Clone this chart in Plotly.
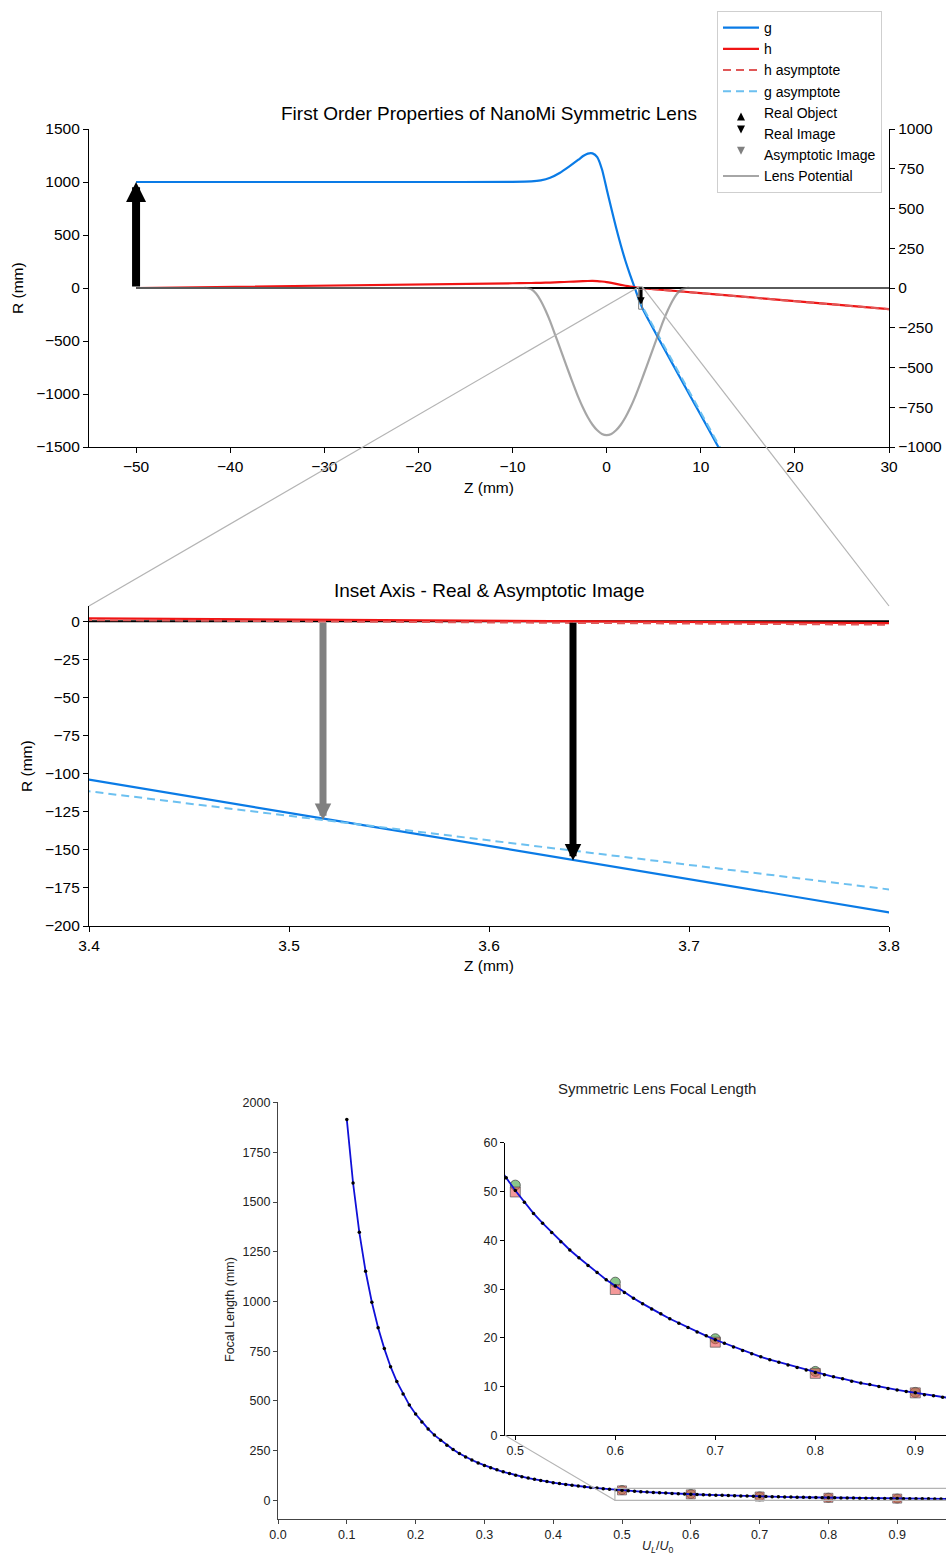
import plotly.graph_objects as go

W, H = 946, 1555

# ---------------- top panel data (Z in mm, R in mm) ----------------
g_z = [-50, -20, -10, -8, -7, -6, -5, -4, -3, -2.5, -2, -1.5, -1, -0.5, 0, 0.5, 1, 1.5, 2,
       2.5, 3, 3.4, 3.5, 3.6, 3.7, 3.8, 4.5, 5.5, 7, 8.5, 10, 12]
g_r = [1000, 1000, 1001, 1005, 1015, 1040, 1085, 1145, 1210, 1245, 1268, 1270, 1235, 1120,
       935, 750, 570, 405, 255, 122, -2, -104, -125.8, -147.5, -169.3, -191, -310, -475,
       -716, -958, -1199, -1521]

h_z = [-50, -10, -8, -7, -6, -5, -4, -3, -2, -1.5, -1, -0.5, 0, 0.5, 1, 1.5, 2, 2.5, 3,
       3.4, 3.8, 5, 10, 20, 30]
h_r = [0, 44.8, 47.1, 48.8, 51, 54.5, 59, 63, 66, 66.5, 65, 61.5, 56, 48, 39, 30, 21.5, 13.5,
       6.5, 1.9, -1.3, -10.4, -48.3, -124, -200]

h_asym_z = [3.3, 30]
h_asym_r = [1.5, -200.1]
g_asym_z = [3.3, 12.5]
g_asym_r = [-95.5, -1576.6]

axis_z = [-50, 30]
axis_r = [0, 0]

pot_z = [-50, -9, -8.5, -8, -7.5, -7, -6.5, -6, -5.5, -5, -4.5, -4, -3.5, -3, -2.5, -2,
         -1.5, -1, -0.5, 0, 0.5, 1, 1.5, 2, 2.5, 3, 3.5, 4, 4.5, 5, 5.5, 6, 6.5, 7, 7.5,
         8, 8.5, 9, 30]
pot_v = [0, 0, 0, -8, -35, -80, -140, -210, -290, -370, -452, -533, -612, -688, -755,
         -813, -860, -895, -918, -925, -918, -895, -860, -813, -755, -688, -612, -533,
         -452, -370, -290, -210, -140, -80, -35, -8, 0, 0, 0]

obj_z, obj_r = -50, 1000          # real object
img_z, img_r = 3.642, -157        # real image
aimg_z, aimg_r = 3.517, -130.4    # asymptotic image

inset_x = [3.4, 3.8]
inset_y = [-200, 10]

# ---------------- bottom panel data ----------------
ul_ratio = [0.1, 0.1091, 0.1182, 0.1273, 0.1364, 0.1455, 0.1545, 0.1636, 0.1727, 0.1818,
            0.1909, 0.2, 0.2091, 0.2182, 0.2273, 0.2364, 0.2455, 0.2545, 0.2636, 0.2727,
            0.2818, 0.2909, 0.3, 0.3091, 0.3182, 0.3273, 0.3364, 0.3455, 0.3545, 0.3636,
            0.3727, 0.3818, 0.3909, 0.4, 0.4091, 0.4182, 0.4273, 0.4364, 0.4455, 0.4545,
            0.4636, 0.4727, 0.4818, 0.4909, 0.5, 0.5091, 0.5182, 0.5273, 0.5364, 0.5455,
            0.5545, 0.5636, 0.5727, 0.5818, 0.5909, 0.6, 0.6091, 0.6182, 0.6273, 0.6364,
            0.6455, 0.6545, 0.6636, 0.6727, 0.6818, 0.6909, 0.7, 0.7091, 0.7182, 0.7273,
            0.7364, 0.7455, 0.7545, 0.7636, 0.7727, 0.7818, 0.7909, 0.8, 0.8091, 0.8182,
            0.8273, 0.8364, 0.8455, 0.8545, 0.8636, 0.8727, 0.8818, 0.8909, 0.9, 0.9091,
            0.9182, 0.9273, 0.9364, 0.9455, 0.9545, 0.9636, 0.9727, 0.9818, 0.9909, 1.0]
focal = [1916, 1596, 1348, 1152, 996, 868, 763, 672, 597, 535,
         479, 434, 394, 359, 328, 302, 277, 255.2, 235.7, 218.3,
         202.5, 188.3, 175.5, 163.8, 153.1, 143.4, 134.5, 126.4, 118.9, 112.0,
         105.6, 99.5, 94.0, 88.8, 84.0, 79.6, 75.4, 71.5, 67.9, 64.5,
         61.3, 58.3, 55.5, 52.8, 50.2, 47.8, 45.5, 43.5, 41.6, 39.7,
         38.0, 36.4, 34.8, 33.4, 31.9, 30.6, 29.3, 28.1, 27.0, 25.9,
         24.9, 23.9, 23.0, 22.1, 21.2, 20.4, 19.6, 18.9, 18.1, 17.4,
         16.7, 16.1, 15.5, 15.0, 14.4, 13.9, 13.4, 12.9, 12.4, 12.0,
         11.6, 11.1, 10.7, 10.4, 10.0, 9.6, 9.3, 9.0, 8.7, 8.3,
         8.1, 7.8, 7.54, 7.29, 7.05, 6.82, 6.60, 6.39, 6.19, 5.99]
exp_x = [0.5, 0.6, 0.7, 0.8, 0.9]
exp_circle = [51.3, 31.4, 19.8, 13.1, 8.8]
exp_square = [49.9, 29.9, 19.1, 12.7, 8.7]

zoom2_x = [0.4897, 1.02]      # zoom window marked in the main focal-length axes
zoom2_y = [0, 60]
inset2_view = [0.4897, 0.9307]  # part of the inset visible inside the page

# ---------------- layout geometry ----------------
FONT = "Liberation Sans, Arial, Helvetica, sans-serif"
def px(x): return x / W
def py(y): return 1 - y / H

top_xd = [px(89), px(889)]
top_yd = [py(447), py(129)]
ins_yd = [py(926), py(606)]
bot_xd = [px(278), 1.0]
bot_yd = [py(1519), py(1101.7)]
bi_xd = [px(505), 1.0]
bi_yd = [py(1435.3), py(1142.7)]

top_xr = [-55, 30]
top_yr = [-1500, 1500]
bot_xr = [0, 0.9709]
bot_yr = [-94, 2005]

fig = go.Figure()

G_COL = "#0a7be6"
H_COL = "#f01414"
HA_COL = "#e05858"
GA_COL = "#6cc0f0"
POT_COL = "rgba(128,128,128,0.7)"

# top main traces (legend entries)
fig.add_trace(go.Scatter(x=g_z, y=g_r, mode="lines", line=dict(color=G_COL, width=2.2, shape="spline", smoothing=0.6),
                         name="g", xaxis="x", yaxis="y"))
fig.add_trace(go.Scatter(x=h_z, y=h_r, mode="lines", line=dict(color=H_COL, width=2.2, shape="spline", smoothing=0.6),
                         name="h", xaxis="x", yaxis="y"))
fig.add_trace(go.Scatter(x=h_asym_z, y=h_asym_r, mode="lines",
                         line=dict(color=HA_COL, width=2, dash="8px,5px"),
                         name="h asymptote", xaxis="x", yaxis="y"))
fig.add_trace(go.Scatter(x=g_asym_z, y=g_asym_r, mode="lines",
                         line=dict(color=GA_COL, width=2, dash="8px,5px"),
                         name="g asymptote", xaxis="x", yaxis="y"))
fig.add_trace(go.Scatter(x=axis_z, y=axis_r, mode="lines", line=dict(color="black", width=2),
                         showlegend=False, xaxis="x", yaxis="y"))
fig.add_trace(go.Scatter(x=[None], y=[None], mode="markers", name="Real Object",
                         marker=dict(symbol="arrow-up", size=8, color="black"),
                         xaxis="x", yaxis="y"))
fig.add_trace(go.Scatter(x=[None], y=[None], mode="markers", name="Real Image",
                         marker=dict(symbol="arrow-down", size=8, color="black"),
                         xaxis="x", yaxis="y"))
fig.add_trace(go.Scatter(x=[None], y=[None], mode="markers", name="Asymptotic Image",
                         marker=dict(symbol="arrow-down", size=8, color="gray"),
                         xaxis="x", yaxis="y"))
fig.add_trace(go.Scatter(x=pot_z, y=pot_v, mode="lines",
                         line=dict(color=POT_COL, width=2.2, shape="spline", smoothing=0.5),
                         name="Lens Potential", xaxis="x", yaxis="y2"))

# inset traces
fig.add_trace(go.Scatter(x=g_z, y=g_r, mode="lines", line=dict(color=G_COL, width=2.2),
                         showlegend=False, xaxis="x3", yaxis="y3"))
fig.add_trace(go.Scatter(x=axis_z, y=axis_r, mode="lines", line=dict(color="black", width=2),
                         showlegend=False, xaxis="x3", yaxis="y3"))
fig.add_trace(go.Scatter(x=h_z, y=h_r, mode="lines", line=dict(color=H_COL, width=2.2),
                         showlegend=False, xaxis="x3", yaxis="y3"))
fig.add_trace(go.Scatter(x=h_asym_z, y=h_asym_r, mode="lines",
                         line=dict(color=HA_COL, width=2, dash="8px,5px"),
                         showlegend=False, xaxis="x3", yaxis="y3"))
fig.add_trace(go.Scatter(x=g_asym_z, y=g_asym_r, mode="lines",
                         line=dict(color=GA_COL, width=2, dash="8px,5px"),
                         showlegend=False, xaxis="x3", yaxis="y3"))

# bottom main + inset traces
for xa, ya, msz in (("x4", "y4", 9), ("x5", "y5", 10)):
    fig.add_trace(go.Scatter(x=exp_x, y=exp_circle, mode="markers", showlegend=False,
                             marker=dict(symbol="circle", size=msz, color="rgba(60,160,60,0.6)",
                                         line=dict(color="rgba(60,60,60,0.7)", width=1)),
                             xaxis=xa, yaxis=ya))
    fig.add_trace(go.Scatter(x=exp_x, y=exp_square, mode="markers", showlegend=False,
                             marker=dict(symbol="square", size=msz, color="rgba(235,70,70,0.55)",
                                         line=dict(color="rgba(90,90,90,0.7)", width=1)),
                             xaxis=xa, yaxis=ya))
    fig.add_trace(go.Scatter(x=ul_ratio, y=focal, mode="lines+markers", showlegend=False,
                             line=dict(color="#1010d8", width=1.8),
                             marker=dict(color="black", size=3.5),
                             xaxis=xa, yaxis=ya))

# ---------------- axes ----------------
tick_font = dict(family=FONT, size=15.5, color="black")
small_font = dict(family=FONT, size=12.5, color="#222")
common = dict(showgrid=False, zeroline=False, showline=True, linecolor="black", linewidth=1.2,
              ticks="outside", ticklen=5, tickwidth=1.2, tickcolor="black", automargin=False)
bot_common = {**common, "linecolor": "#444", "tickcolor": "#444", "ticklen": 4}

fig.update_layout(
    xaxis=dict(domain=top_xd, range=top_xr, anchor="y", tickvals=[-50, -40, -30, -20, -10, 0, 10, 20, 30],
               tickfont=tick_font, **common),
    yaxis=dict(domain=top_yd, range=top_yr, anchor="x", tickvals=[-1500, -1000, -500, 0, 500, 1000, 1500],
               tickfont=tick_font, **common),
    yaxis2=dict(overlaying="y", side="right", range=[-1000, 1000], anchor="x",
                tickvals=[-1000, -750, -500, -250, 0, 250, 500, 750, 1000], tickfont=tick_font, **common),
    xaxis3=dict(domain=top_xd, range=inset_x, anchor="y3", tickvals=[3.4, 3.5, 3.6, 3.7, 3.8],
                tickformat=".1f", tickfont=tick_font, **common),
    yaxis3=dict(domain=ins_yd, range=inset_y, anchor="x3",
                tickvals=[0, -25, -50, -75, -100, -125, -150, -175, -200], tickfont=tick_font, **common),
    xaxis4=dict(domain=bot_xd, range=bot_xr, anchor="y4", tickvals=[0, 0.1, 0.2, 0.3, 0.4, 0.5, 0.6, 0.7, 0.8, 0.9],
                tickformat=".1f", tickfont=small_font, **bot_common),
    yaxis4=dict(domain=bot_yd, range=bot_yr, anchor="x4",
                tickvals=[0, 250, 500, 750, 1000, 1250, 1500, 1750, 2000], tickfont=small_font, **bot_common),
    xaxis5=dict(domain=bi_xd, range=inset2_view, anchor="y5", tickvals=[0.5, 0.6, 0.7, 0.8, 0.9],
                tickformat=".1f", tickfont=small_font, **{**common, "ticklen": 4}),
    yaxis5=dict(domain=bi_yd, range=zoom2_y, anchor="x5", tickvals=[0, 10, 20, 30, 40, 50, 60],
                tickfont=small_font, **{**common, "ticklen": 4}),
)

# ---------------- helpers mapping data to paper ----------------
def top_paper(z, r):
    fx = (z - top_xr[0]) / (top_xr[1] - top_xr[0])
    fy = (r - top_yr[0]) / (top_yr[1] - top_yr[0])
    return top_xd[0] + fx * (top_xd[1] - top_xd[0]), top_yd[0] + fy * (top_yd[1] - top_yd[0])

def bot_paper(u, f):
    fx = (u - bot_xr[0]) / (bot_xr[1] - bot_xr[0])
    fy = (f - bot_yr[0]) / (bot_yr[1] - bot_yr[0])
    return bot_xd[0] + fx * (bot_xd[1] - bot_xd[0]), bot_yd[0] + fy * (bot_yd[1] - bot_yd[0])

shapes = []
CONN = "#b4b4b4"
# zoom box in top panel
shapes.append(dict(type="rect", xref="x", yref="y", x0=inset_x[0], x1=inset_x[1],
                   y0=inset_y[0], y1=inset_y[1], line=dict(color="#808080", width=1)))
# connectors top
p1 = top_paper(inset_x[0], inset_y[1])
p2 = top_paper(inset_x[1], inset_y[1])
shapes.append(dict(type="line", xref="paper", yref="paper", x0=top_xd[0], y0=ins_yd[1],
                   x1=p1[0], y1=p1[1], line=dict(color=CONN, width=1.2)))
shapes.append(dict(type="line", xref="paper", yref="paper", x0=top_xd[1], y0=ins_yd[1],
                   x1=p2[0], y1=p2[1], line=dict(color=CONN, width=1.2)))
# zoom box in bottom panel
shapes.append(dict(type="rect", xref="x4", yref="y4", x0=zoom2_x[0], x1=zoom2_x[1],
                   y0=zoom2_y[0], y1=zoom2_y[1], line=dict(color="#b4b4b4", width=1.2)))
q1 = bot_paper(zoom2_x[0], zoom2_y[0])
shapes.append(dict(type="line", xref="paper", yref="paper", x0=bi_xd[0], y0=bi_yd[0],
                   x1=q1[0], y1=q1[1], line=dict(color=CONN, width=1.2)))

# ---------------- arrows (object / images) ----------------
ann = []
def arrow(xr, yr, x, y, ax, ay, color, width, head, size):
    ann.append(dict(xref=xr, yref=yr, axref=xr, ayref=yr, x=x, y=y, ax=ax, ay=ay, text="",
                    showarrow=True, arrowhead=head, arrowsize=size, arrowwidth=width,
                    arrowcolor=color))

arrow("x", "y", obj_z, obj_r, obj_z, 0, "black", 8, 2, 0.5)
arrow("x", "y", aimg_z, aimg_r, aimg_z, 0, "gray", 2, 2, 0.7)
arrow("x", "y", img_z, img_r, img_z, 0, "black", 2.5, 2, 0.6)
arrow("x3", "y3", aimg_z, aimg_r, aimg_z, 0, "gray", 7, 2, 0.47)
arrow("x3", "y3", img_z, img_r, img_z, 0, "black", 7, 2, 0.47)

def label(text, x, y, size, angle=0, color="black"):
    ann.append(dict(xref="paper", yref="paper", x=px(x), y=py(y), text=text, showarrow=False,
                    xanchor="center", yanchor="middle", textangle=angle,
                    font=dict(family=FONT, size=size, color=color)))

label("First Order Properties of NanoMi Symmetric Lens", 489, 113, 19)
label("Z (mm)", 489, 487, 15.5)
label("R (mm)", 17, 288, 15.5, -90)
label("Inset Axis - Real &amp; Asymptotic Image", 489, 591, 19)
label("Z (mm)", 489, 965, 15.5)
label("R (mm)", 27, 766, 15.5, -90)
label("Symmetric Lens Focal Length", 657, 1088, 15, 0, "#222")
label("Focal Length (mm)", 230, 1310, 12.5, -90, "#222")
label("<i>U</i><sub><i>L</i></sub>/<i>U</i><sub>0</sub>", 657, 1547, 12.5, 0, "#222")

fig.update_layout(
    width=W, height=H, autosize=False,
    margin=dict(l=0, r=0, t=0, b=0, autoexpand=False),
    paper_bgcolor="white", plot_bgcolor="white",
    font=dict(family=FONT, color="black"),
    shapes=shapes, annotations=ann,
    legend=dict(x=px(717), y=py(11), xanchor="left", yanchor="top", bgcolor="white",
                bordercolor="#cfcfcf", borderwidth=1, font=dict(family=FONT, size=14),
                traceorder="normal", itemwidth=36),
)

fig.write_html("out.html")
